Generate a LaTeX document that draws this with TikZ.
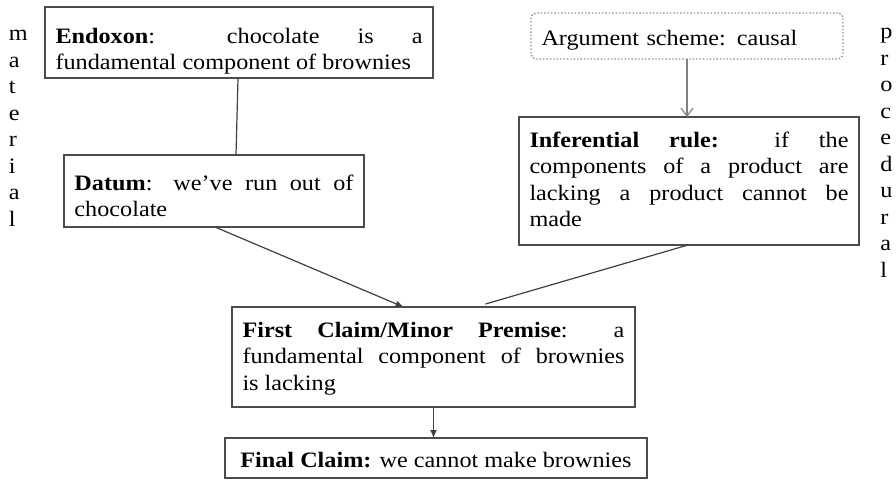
\documentclass[tikz,border=0pt]{standalone}
\usepackage{fontspec}
\setmainfont{Liberation Serif}[FakeStretch=1.10]
\usetikzlibrary{arrows.meta}
\hbadness=10000
\tolerance=10000
\newcommand{\padtext}[3]{\rule{0pt}{#1}#3\rule[-#2]{0pt}{#2}}

\begin{document}
\begin{tikzpicture}[x=0.5pt,y=-0.5pt,
  every node/.style={font=\fontsize{11}{13.25}\selectfont},
  argbox/.style={draw=black!70,line width=0.8pt,anchor=north,outer sep=0pt,
    inner xsep=5.25pt,inner ysep=0pt,align=justify,text width=#1},
  schemebox/.style={draw=black!45,densely dotted,line width=0.7pt,rounded corners=2.5pt,
    anchor=north,outer sep=0pt,inner xsep=5.25pt,inner ysep=0pt,align=left,text width=#1},
  sideword/.style={anchor=north west,inner sep=0pt,align=left},
  link/.style={draw=black!75,line width=0.6pt},
  tip/.style={-{Latex[length=4pt,width=3.5pt]}}]
  \useasboundingbox (0,0) rectangle (896,479);

  \node[sideword] (material) at (8.5,30) {m\\a\\t\\e\\r\\i\\a\\l};
  \node[sideword] (procedural) at (880,28) {p\\r\\o\\c\\e\\d\\u\\r\\a\\l};

  \node[argbox=183.5pt] (endoxon) at (239,7)
    {\padtext{18pt}{4.25pt}{\textbf{Endoxon}: chocolate is a\linebreak fundamental component of brownies}};
  \node[argbox=139.5pt] (datum) at (214,155)
    {\padtext{17.5pt}{5.25pt}{\textbf{Datum}: we've run out of\linebreak chocolate}};
  \node[schemebox=145.5pt] (scheme) at (687,13)
    {\padtext{16.25pt}{6.75pt}{Argument scheme: causal}};
  \node[argbox=159.5pt] (inferential) at (689,117)
    {\padtext{15pt}{9.25pt}{\textbf{Inferential rule:} if the\linebreak components of a product are\linebreak lacking a product cannot be\linebreak made}};
  \node[argbox=191pt] (first) at (433.5,307)
    {\padtext{15pt}{8.5pt}{\textbf{First Claim/Minor Premise}: a\linebreak fundamental component of brownies\linebreak is lacking}};
  \node[draw=black!70,line width=0.8pt,anchor=north,outer sep=0pt,inner sep=0pt,minimum width=211pt] (final) at (436,438)
    {\padtext{14.5pt}{5.5pt}{\textbf{Final Claim:} we cannot make brownies}};

  \draw[link] ([shift={(-1,0)}]endoxon.south) -- ([shift={(22,0)}]datum.north);
  \draw[link,tip] ([shift={(1,0)}]datum.south) -- ([shift={(-30,0)}]first.north);
  \draw[link,draw=black!50,-{Straight Barb[length=4pt,width=6pt]}] (scheme.south) -- (scheme.south |- inferential.north);
  \draw[link] ([shift={(-1,0)}]inferential.south) -- ([shift={(52,-3)}]first.north);
  \draw[link,tip] (first.south) -- (first.south |- final.north);
\end{tikzpicture}
\end{document}
